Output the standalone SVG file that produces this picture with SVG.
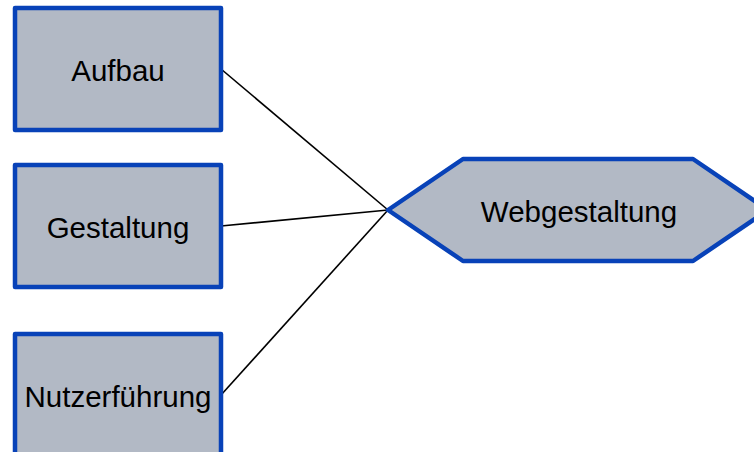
<svg xmlns="http://www.w3.org/2000/svg" width="754" height="452" viewBox="0 0 754 452">
<style>
.node{fill:#B2B9C5;stroke:#0842B8;stroke-width:4.5;stroke-linejoin:round}
.lbl{font-family:"Liberation Sans",Arial,sans-serif;font-size:29.5px;fill:#000;text-anchor:middle}
.edge{stroke:#000;stroke-width:1.6;fill:none}
</style>
<rect width="754" height="452" fill="#fff"/>
<g id="connectors">
<line class="edge" x1="221" y1="69" x2="388" y2="210"/>
<line class="edge" x1="221" y1="226" x2="388" y2="210"/>
<line class="edge" x1="221" y1="395" x2="388" y2="210"/>
</g>
<g id="aufbau">
<rect class="node" x="15" y="8" width="206" height="122"/>
<text class="lbl" x="118" y="81">Aufbau</text>
</g>
<g id="gestaltung">
<rect class="node" x="15" y="165" width="206" height="122"/>
<text class="lbl" x="118" y="238">Gestaltung</text>
</g>
<g id="nutzerfuehrung">
<rect class="node" x="15" y="334" width="206" height="122"/>
<text class="lbl" x="118" y="407">Nutzerführung</text>
</g>
<g id="webgestaltung">
<polygon class="node" points="388,210 463,159 693,159 768,210 693,261 463,261"/>
<text class="lbl" x="579" y="222">Webgestaltung</text>
</g>
</svg>
